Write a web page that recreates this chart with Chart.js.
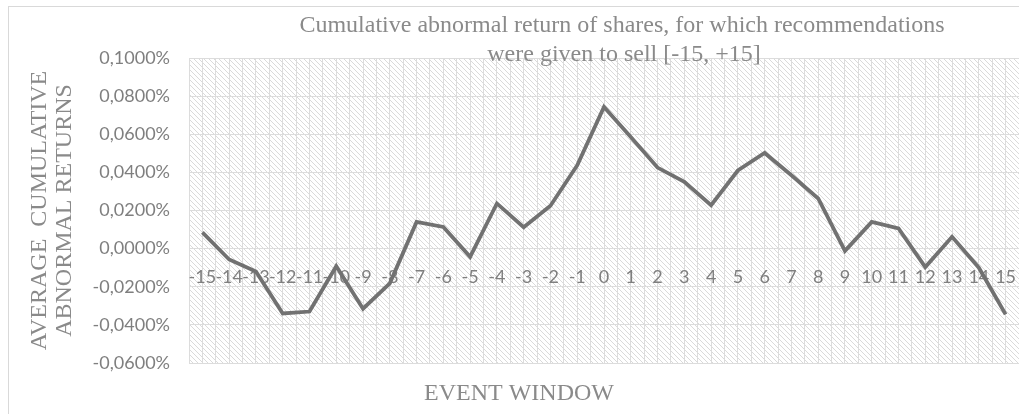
<!DOCTYPE html>
<html>
<head>
<meta charset="utf-8">
<script src="https://cdn.jsdelivr.net/npm/chart.js@4.4.0/dist/chart.umd.min.js"></script>
<style>
  html, body { margin: 0; padding: 0; background: #ffffff; }
</style>
</head>
<body>
<canvas id="carChart" width="1019" height="414"></canvas>
<script>
// event days and average cumulative abnormal returns (in %)
var categories = [-15, -14, -13, -12, -11, -10, -9, -8, -7, -6, -5, -4, -3, -2, -1, 0,
                  1, 2, 3, 4, 5, 6, 7, 8, 9, 10, 11, 12, 13, 14, 15];
var values = [0.0085, -0.0057, -0.0120, -0.0340, -0.0330, -0.0092, -0.0315, -0.0182, 0.0140, 0.0114,
              -0.0043, 0.0237, 0.0112, 0.0225, 0.0437, 0.0743, 0.0585, 0.0425, 0.0350, 0.0228,
              0.0410, 0.0502, 0.0385, 0.0263, -0.0012, 0.0140, 0.0106, -0.0097, 0.0062, -0.0100,
              -0.0345];
var yTicks = [-0.06, -0.04, -0.02, 0, 0.02, 0.04, 0.06, 0.08, 0.1];

var chartTitle = ['Cumulative abnormal return of shares, for which recommendations',
                  'were given to sell [-15, +15]'];
var yTitle = ['AVERAGE  CUMULATIVE', 'ABNORMAL RETURNS'];
var xTitle = 'EVENT WINDOW';

var serif = '"Liberation Serif", "Times New Roman", serif';
var sans = 'Lato, "Open Sans", sans-serif';
var textGrey = '#8a8a8a';
var tickGrey = '#7f7f7f';
var gridGrey = '#dcdcdc';

function fmtPct(v) {
    return v.toFixed(4).replace('.', ',') + '%';
}

// light "\" hatch used as plot background
function makeHatch() {
    var c = document.createElement('canvas');
    c.width = 5; c.height = 5;
    var g = c.getContext('2d');
    g.fillStyle = '#dadada';
    for (var i = 0; i < 5; i++) g.fillRect(i, i, 1, 1);
    return g.createPattern(c, 'repeat');
}

var decor = {
    id: 'decor',
    beforeDraw: function(chart) {
        var ctx = chart.ctx, a = chart.chartArea;
        ctx.save();
        ctx.fillStyle = makeHatch();
        ctx.fillRect(a.left, a.top, a.right - a.left, a.bottom - a.top);
        ctx.strokeStyle = '#d9d9d9';
        ctx.lineWidth = 1;
        ctx.strokeRect(8.5, 6.5, chart.width + 10, chart.height + 10);
        ctx.restore();
    },
    afterDraw: function(chart) {
        var ctx = chart.ctx;
        ctx.save();
        ctx.fillStyle = textGrey;
        ctx.font = '24px ' + serif;
        ctx.textAlign = 'center';
        ctx.textBaseline = 'alphabetic';
        ctx.fillText(chartTitle[0], 622, 32);
        ctx.fillText(chartTitle[1], 624, 61);
        ctx.fillText(xTitle, 519, 400);
        ctx.restore();
    }
};

var ctx = document.getElementById('carChart').getContext('2d');
var chart = new Chart(ctx, {
    type: 'line',
    data: {
        datasets: [{
            data: categories.map(function(c, i) { return {x: c, y: values[i]}; }),
            borderColor: '#717171',
            borderWidth: 3.8,
            pointRadius: 0,
            tension: 0,
            fill: false
        }]
    },
    options: {
        responsive: false,
        animation: false,
        devicePixelRatio: 1,
        layout: { padding: { top: 58, bottom: 51, left: 0, right: 0 } },
        plugins: {
            legend: { display: false },
            tooltip: { enabled: false }
        },
        scales: {
            x: {
                type: 'linear',
                position: { y: 0 },
                min: categories[0] - 0.5,
                max: categories[categories.length - 1] + 0.5,
                afterBuildTicks: function(scale) {
                    var t = [];
                    categories.forEach(function(c) {
                        t.push({value: c - 0.5});
                        t.push({value: c});
                    });
                    t.push({value: categories[categories.length - 1] + 0.5});
                    scale.ticks = t;
                },
                afterFit: function(scale) {
                    scale.paddingLeft = 0; scale.paddingRight = 0;
                    scale.paddingTop = 0; scale.paddingBottom = 0;
                },
                grid: { color: gridGrey, lineWidth: 1, drawTicks: false },
                border: { display: false },
                ticks: {
                    autoSkip: false,
                    maxRotation: 0,
                    padding: 18,
                    color: tickGrey,
                    font: { family: sans, size: 18 },
                    callback: function(v) {
                        return categories.indexOf(v) >= 0 ? String(v) : '';
                    }
                }
            },
            y: {
                position: 'left',
                min: yTicks[0],
                max: yTicks[yTicks.length - 1],
                afterBuildTicks: function(scale) {
                    scale.ticks = yTicks.map(function(v) { return {value: v}; });
                },
                afterFit: function(scale) { scale.width = 189; },
                grid: { color: gridGrey, lineWidth: 1, drawTicks: false },
                border: { display: false },
                ticks: {
                    padding: 19,
                    color: tickGrey,
                    font: { family: sans, size: 18 },
                    callback: function(v) { return fmtPct(v); }
                },
                title: {
                    display: true,
                    text: yTitle,
                    color: textGrey,
                    font: { family: serif, size: 24, lineHeight: 1.05 },
                    padding: { top: 27, bottom: 0 }
                }
            }
        }
    },
    plugins: [decor]
});
</script>
</body>
</html>
